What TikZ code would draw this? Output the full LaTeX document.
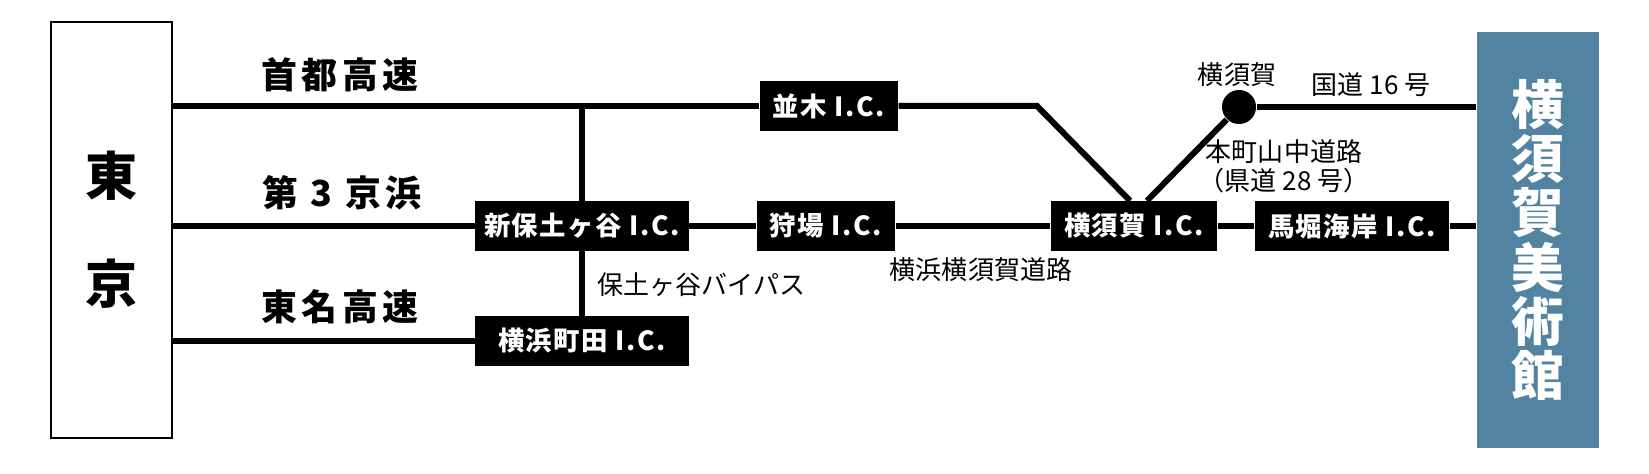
\documentclass[tikz,border=0pt]{standalone}
\usepackage{fontspec}
\newfontfamily\jp{Noto Sans CJK JP}
\newfontfamily\jpwide[LetterSpace=12]{Noto Sans CJK JP}
\newfontfamily\jpic[LetterSpace=6]{Noto Sans CJK JP}
\usetikzlibrary{calc}
\definecolor{museumblue}{HTML}{5283A1}

\begin{document}
\begin{tikzpicture}[x=0.01cm, y=-0.01cm,
    road/.style={line width=1.7pt},
    icbox/.style={fill=black, text=white, inner xsep=0.13cm, inner ysep=0pt, minimum height=0.49cm,
        font=\jpic\bfseries\fontsize{7.5}{9}\selectfont},
    roadname/.style={font=\jpwide\bfseries\fontsize{10.2}{12}\selectfont},
    place/.style={font=\jp\fontsize{7.4}{9}\selectfont, inner sep=0pt}]
    \useasboundingbox (0,0) rectangle (1649,474);
    % Nodes
    \node[draw, line width=0.6pt, minimum width=1.21cm, minimum height=4.16cm, align=center,
        font=\jp\bfseries\fontsize{14.8}{30.7}\selectfont] (tokyo) at (111.5,230) {東\\京};
    \node[fill=museumblue, text=white, minimum width=1.22cm, minimum height=4.16cm, align=center,
        font=\jp\bfseries\fontsize{15}{15.4}\selectfont] (museum) at (1538,240) {横\\須\\賀\\美\\術\\館};
    \node[icbox] (namiki) at (829,106) {並木 I.C.};
    \node[icbox, inner xsep=0.07cm, minimum width=2.13cm] (hodogaya) at (582,226) {新保土ヶ谷 I.C.};
    \node[icbox, minimum width=2.13cm] (machida) at (582,341) {横浜町田 I.C.};
    \node[icbox] (kariba) at (826,226) {狩場 I.C.};
    \node[icbox] (yic) at (1134,226) {横須賀 I.C.};
    \node[icbox] (bori) at (1352,226) {馬堀海岸 I.C.};
    \node[circle, fill=black, inner sep=0pt, minimum size=0.34cm] (yokosuka) at (1239,107) {};
    \coordinate (bend) at (1037,106);
    % Road names
    \node[roadname] (shuto) at (340,75) {首都高速};
    \node[roadname] (daisan) at (342,193) {第 3 京浜};
    \node[roadname] (tomei) at (340,307) {東名高速};
    \node[place, anchor=west] (bypass) at (597,285) {保土ヶ谷バイパス};
    \node[place] (yokoyoko) at (981,270) {横浜横須賀道路};
    \node[place] (yokosukaname) at (1237,75) {横須賀};
    \node[place] (kokudo) at (1371,85) {国道 16 号};
    \node[place, align=center, font=\jp\fontsize{7.4}{8.2}\selectfont] (honmachi) at (1284,166) {本町山中道路\\（県道 28 号）};
    % Roads connecting the nodes
    \draw[road] (tokyo.east |- namiki) -- (namiki.west);
    \draw[road] (namiki.east) -- (bend) -- ($(yic.north)+(-4,0)$);
    \draw[road] ($(yic.north)+(13,0)$) -- (yokosuka);
    \draw[road] (yokosuka) -- (museum.west |- yokosuka);
    \draw[road] (hodogaya.north |- namiki) -- (hodogaya.north);
    \draw[road] (hodogaya.south) -- (machida.north);
    \draw[road] (tokyo.east |- hodogaya) -- (hodogaya.west);
    \draw[road] (hodogaya.east) -- (kariba.west);
    \draw[road] (kariba.east) -- (yic.west);
    \draw[road] (yic.east) -- (bori.west);
    \draw[road] (bori.east) -- (museum.west |- bori);
    \draw[road] (tokyo.east |- machida) -- (machida.west);
\end{tikzpicture}
\end{document}
